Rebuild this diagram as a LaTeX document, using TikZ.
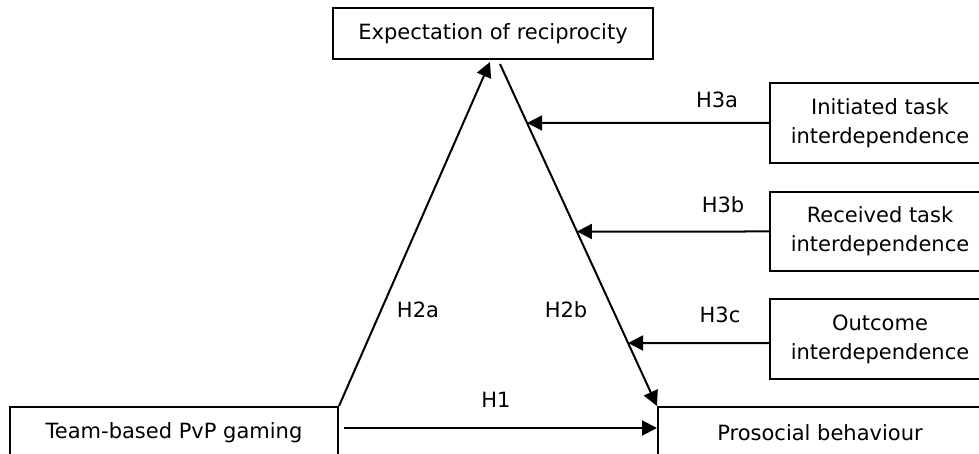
\documentclass[tikz,border=0pt]{standalone}
\usepackage{fontspec}
\setmainfont{DejaVu Sans}
\usetikzlibrary{arrows.meta}

\begin{document}
\begin{tikzpicture}[
            x = 1pt, y = -1pt, % pixel units, y pointing down
            > = {Triangle[length=15pt, width=15pt]}, % arrow head style
            line width = 2pt, % line style
            font = \fontsize{21}{29}\selectfont
        ]

        \tikzstyle{box}=[
            draw = black,
            line width = 2pt,
            align = center,
            inner sep = 0pt
        ]
    \useasboundingbox (0, 0) rectangle (979, 454);
    \clip (0, 0) rectangle (979, 454);

    % Define the nodes and their positions
    \node[box, minimum width = 320pt, minimum height = 51pt] (expect) at (493, 33.5) {Expectation of reciprocity};
    \node[box, minimum width = 328pt, minimum height = 51pt] (team) at (174, 432.5) {Team-based PvP gaming};
    \node[box, minimum width = 324pt, minimum height = 51pt] (prosocial) at (820, 432.5) {Prosocial behaviour};
    \node[box, minimum width = 220pt, minimum height = 80pt] (initiated) at (880, 123) {Initiated task\\interdependence};
    \node[box, minimum width = 220pt, minimum height = 79pt] (received) at (880, 231.5) {Received task\\interdependence};
    \node[box, minimum width = 220pt, minimum height = 80pt] (outcome) at (880, 339) {Outcome\\interdependence};

    % Hypothesis labels
    \node (h1) at (496, 400) {H1};
    \node (h2a) at (418, 310) {H2a};
    \node (h2b) at (566, 310) {H2b};
    \node (h3a) at (717, 100) {H3a};
    \node (h3b) at (723, 205) {H3b};
    \node (h3c) at (720, 315) {H3c};

    % Ends of the mediation paths
    \coordinate (h2top) at ([xshift=7pt, yshift=-4pt]expect.south);
    \coordinate (h2bot) at (prosocial.north west);

    % Draw edges between nodes
    \path[->] (team.north east) edge ([xshift=-3pt, yshift=-2pt]expect.south);
    \path[->] (h2top) edge (h2bot);
    \path[->] ([xshift=5pt, yshift=4.5pt]team.east) edge ([yshift=4.5pt]prosocial.west);
    \path[->] (initiated.west) edge (intersection of h2top--h2bot and initiated.west--initiated.east);
    \path[->] (received.west) edge (intersection of h2top--h2bot and received.west--received.east);
    \path[->] ([yshift=-4pt]outcome.west) edge (intersection of h2top--h2bot and {[yshift=-4pt]outcome.west}--{[yshift=-4pt]outcome.east});
\end{tikzpicture}
\end{document}
